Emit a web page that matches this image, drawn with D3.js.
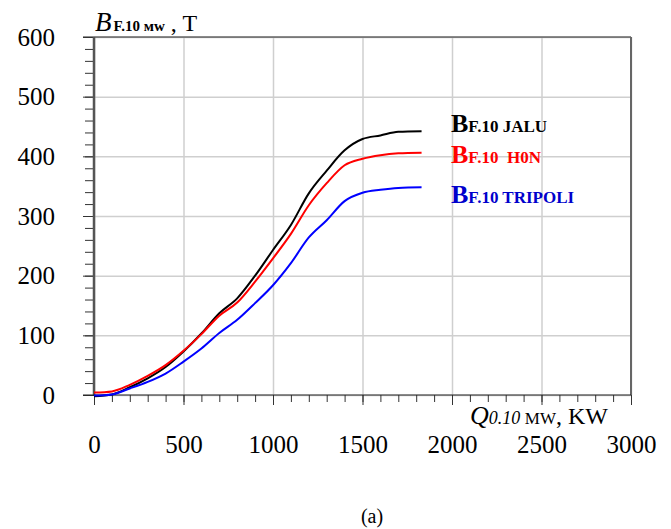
<!DOCTYPE html>
<html lang="en">
<head>
  <meta charset="UTF-8">
  <title>B vs Q</title>
  <script src="https://cdn.jsdelivr.net/npm/d3@7"></script>
  <style>
    body { margin: 0; background: #fff; }
    svg text { font-family: "Times New Roman", "Liberation Serif", "DejaVu Serif", serif !important; }
  </style>
</head>
<body>
  <svg width="671" height="529"></svg>
  <script>
    // values
    var qValues = [0, 100, 200, 300, 400, 500, 600, 700, 800, 900, 1000, 1100, 1200, 1300, 1400, 1500, 1600, 1700, 1830];
    var jalu    = [-2, 1, 13, 28, 47, 73, 103, 137, 162, 200, 243, 285, 338, 376, 410, 429, 435, 441, 442];
    var hon     = [4, 6, 17, 32, 50, 74, 102, 133, 155, 190, 229, 270, 318, 355, 385, 396, 402, 405, 406];
    var tripoli = [-1, 1, 11, 22, 36, 56, 78, 104, 126, 154, 184, 221, 264, 293, 325, 339, 344, 347, 348];
    var xTicks = [0, 500, 1000, 1500, 2000, 2500, 3000];
    var yTicks = [0, 100, 200, 300, 400, 500, 600];

    var margin = {top: 37, right: 40, bottom: 134, left: 94};
    var svg = d3.select('svg');
    var width = +svg.attr('width') - margin.left - margin.right;
    var height = +svg.attr('height') - margin.top - margin.bottom;

    var x = d3.scaleLinear().domain([0, 3000]).range([0, width]);
    var y = d3.scaleLinear().domain([0, 600]).range([height, 0]);

    var g = svg.append('g')
      .attr('transform', 'translate(' + margin.left + ',' + margin.top + ')');

    // grid
    g.append('g')
      .attr('class', 'grid')
      .call(d3.axisBottom(x).tickValues(xTicks).tickSize(height).tickFormat(''))
      .call(function(s) { s.select('.domain').remove(); });
    g.append('g')
      .attr('class', 'grid')
      .call(d3.axisLeft(y).tickValues(yTicks).tickSize(-width).tickFormat(''))
      .call(function(s) { s.select('.domain').remove(); });
    g.selectAll('.grid line').attr('stroke', '#cfcfcf').attr('stroke-width', 1.5);

    // frame: top and right
    g.append('line').attr('x1', -11).attr('x2', width).attr('y1', 0).attr('y2', 0)
      .attr('stroke', '#222').attr('stroke-width', 1.2);
    g.append('line').attr('x1', width).attr('x2', width).attr('y1', 0).attr('y2', height)
      .attr('stroke', '#666').attr('stroke-width', 2);

    // minor ticks
    g.append('g')
      .call(d3.axisLeft(y).tickValues(d3.range(0, 601, 20)).tickSize(9).tickFormat(''))
      .call(function(s) { s.select('.domain').remove(); s.selectAll('line').attr('stroke', '#333'); });
    g.append('g')
      .attr('transform', 'translate(0,' + height + ')')
      .call(d3.axisBottom(x).tickValues(d3.range(0, 3001, 100)).tickSize(7).tickFormat(''))
      .call(function(s) { s.select('.domain').remove(); s.selectAll('line').attr('stroke', '#333'); });

    // major ticks + labels
    var yAxis = g.append('g')
      .call(d3.axisLeft(y).tickValues(yTicks).tickSize(11).tickPadding(28).tickFormat(d3.format('d')))
      .call(function(s) { s.select('.domain').remove(); });
    yAxis.selectAll('line').attr('stroke', '#333');
    yAxis.selectAll('text').attr('font-size', 25).attr('fill', '#000');

    var xAxis = g.append('g')
      .attr('transform', 'translate(0,' + height + ')')
      .call(d3.axisBottom(x).tickValues(xTicks).tickSize(10).tickPadding(30).tickFormat(d3.format('d')))
      .call(function(s) { s.select('.domain').remove(); });
    xAxis.selectAll('line').attr('stroke', '#333');
    xAxis.selectAll('text').attr('font-size', 25).attr('fill', '#000');

    // axis lines
    g.append('line').attr('x1', 0).attr('x2', 0).attr('y1', 0).attr('y2', height)
      .attr('stroke', '#555').attr('stroke-width', 2.5);
    g.append('line').attr('x1', -11).attr('x2', width).attr('y1', height).attr('y2', height)
      .attr('stroke', '#222').attr('stroke-width', 1.2);

    // curves
    var series = [
      {values: jalu, color: '#000000'},
      {values: hon, color: '#ff0000'},
      {values: tripoli, color: '#0000ff'}
    ];
    var line = d3.line()
      .x(function(d, i) { return x(qValues[i]); })
      .y(function(d) { return y(d); })
      .curve(d3.curveMonotoneX);
    g.selectAll('.curve')
      .data(series)
      .enter().append('path')
      .attr('class', 'curve')
      .attr('fill', 'none')
      .attr('stroke', function(d) { return d.color; })
      .attr('stroke-width', 2)
      .attr('stroke-linejoin', 'round')
      .attr('d', function(d) { return line(d.values); });

    // legend labels
    var labels = [
      {sub: 'F.10 JALU', color: '#000000', y: 132},
      {sub: 'F.10\u00a0 H0N', color: '#ff0000', y: 163},
      {sub: 'F.10 TRIPOLI', color: '#0000cc', y: 203}
    ];
    labels.forEach(function(l) {
      var t = svg.append('text')
        .attr('x', 451).attr('y', l.y)
        .attr('fill', l.color).attr('font-weight', 'bold');
      t.append('tspan').attr('font-size', 26).text('B');
      t.append('tspan').attr('font-size', 17).text(l.sub);
    });

    // axis titles
    var yt = svg.append('text').attr('x', 95).attr('y', 31).attr('fill', '#000');
    yt.append('tspan').attr('font-size', 27).attr('font-style', 'italic').text('B');
    yt.append('tspan').attr('font-size', 15).attr('font-weight', 'bold').attr('dx', 2).text('F.10 \u043cw');
    yt.append('tspan').attr('font-size', 24).text(' , T');

    var xt = svg.append('text').attr('x', 470).attr('y', 424).attr('fill', '#000');
    xt.append('tspan').attr('font-size', 26).attr('font-style', 'italic').text('Q');
    xt.append('tspan').attr('font-size', 18).attr('font-style', 'italic').text('0.10 ');
    xt.append('tspan').attr('font-size', 17).text('MW');
    xt.append('tspan').attr('font-size', 24).text(', KW');

    svg.append('text')
      .attr('x', 372).attr('y', 523)
      .attr('text-anchor', 'middle')
      .attr('font-size', 20)
      .text('(a)');
  </script>
</body>
</html>
